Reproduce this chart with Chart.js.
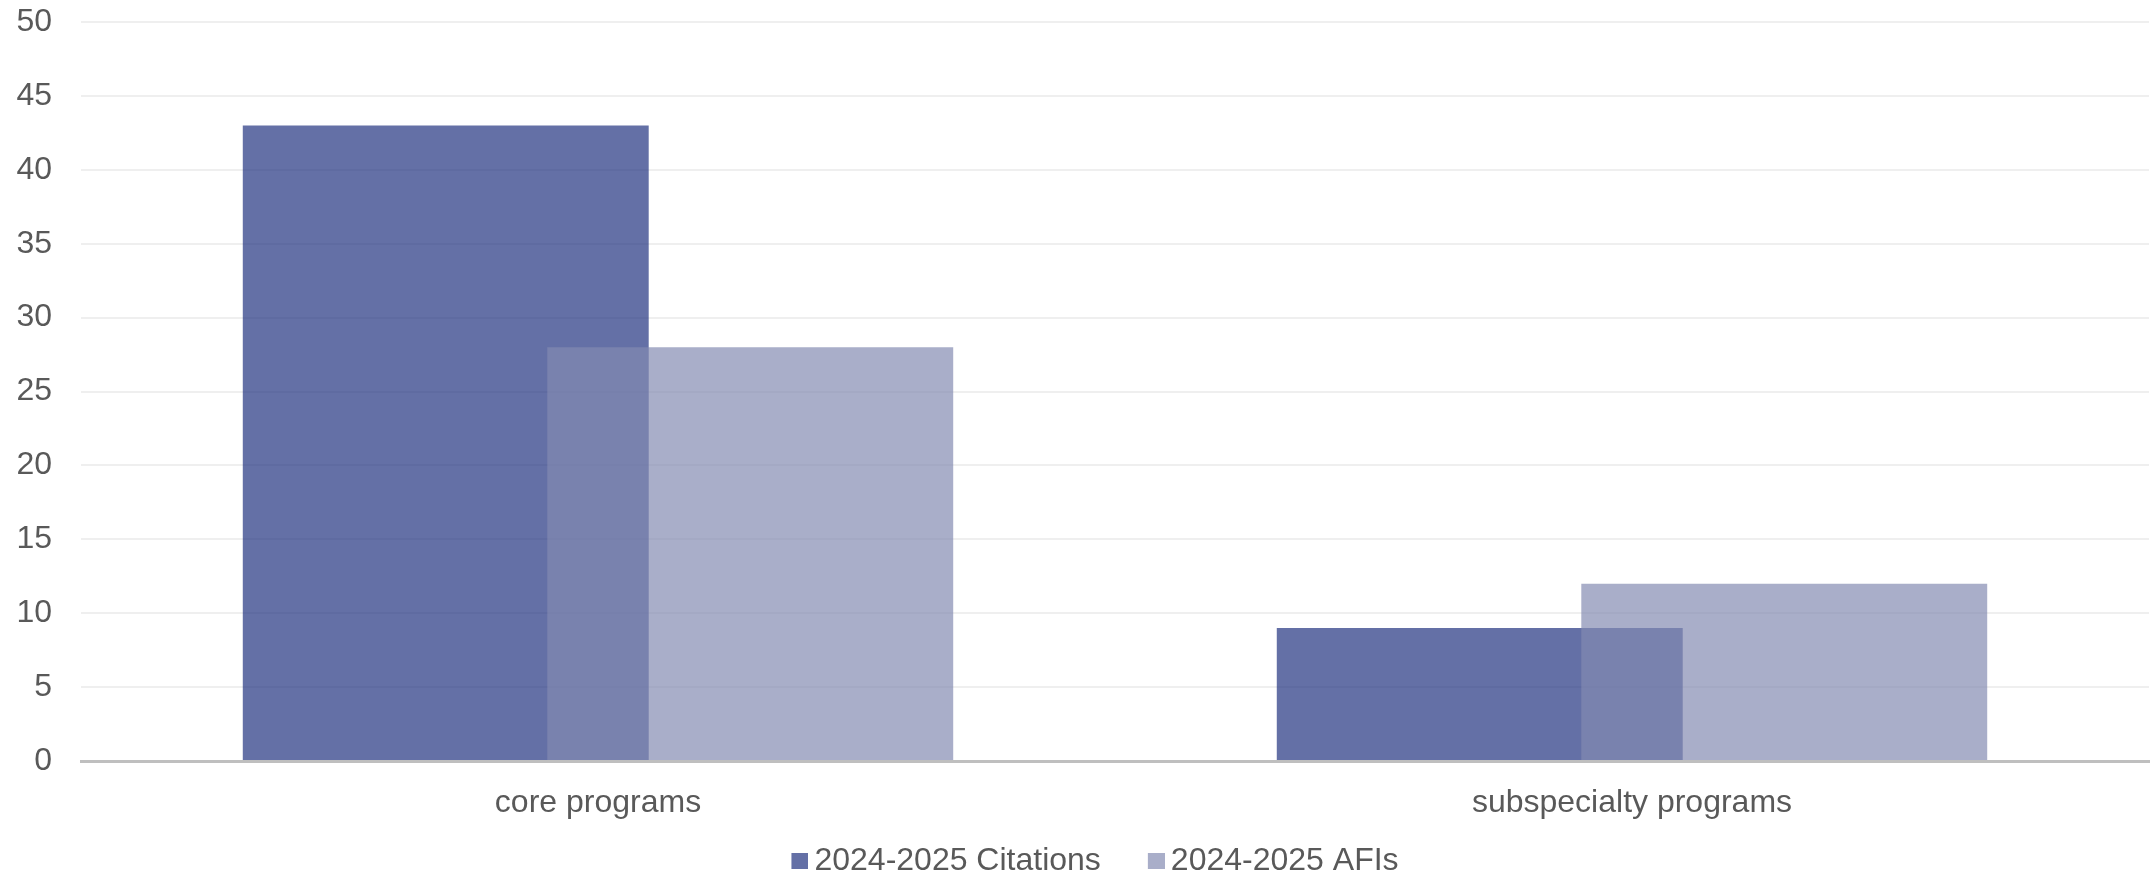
<!DOCTYPE html>
<html>
<head>
<meta charset="utf-8">
<script src="https://cdn.jsdelivr.net/npm/chart.js@4/dist/chart.umd.min.js"></script>
<style>
  html, body { margin: 0; padding: 0; background: #ffffff; }
  #wrap { width: 2150px; height: 875px; position: relative; }
</style>
</head>
<body>
<div id="wrap"><canvas id="c"></canvas></div>
<script>
const categories = ["core programs", "subspecialty programs"];
const citations = [43, 9];
const afis = [28, 12];
const seriesNames = ["2024-2025 Citations", "2024-2025 AFIs"];
const yTicks = [0, 5, 10, 15, 20, 25, 30, 35, 40, 45, 50];
const seriesColors = ["rgba(34,51,128,0.7)", "rgba(130,138,177,0.69)"];

const textColor = "#595959";
const fontFamily = "'Liberation Sans', Arial, sans-serif";

// Legend swatch: a small square placed at the right end of a transparent strip,
// so that it sits close to its label text.
function makeSwatch(color) {
  const cv = document.createElement("canvas");
  cv.width = 68;
  cv.height = 16;
  const g = cv.getContext("2d");
  g.fillStyle = color;
  g.fillRect(51, 0, 17, 16);
  return cv;
}

// Draw the second series (AFIs) on top of the first, as in the reference.
const topSeriesPlugin = {
  id: "topSeries",
  beforeDatasetDraw(chart, args) {
    if (args.index === 1) return false;
  },
  afterDatasetsDraw(chart) {
    const meta = chart.getDatasetMeta(1);
    if (meta && !meta.hidden) meta.controller.draw();
  }
};

new Chart(document.getElementById("c"), {
  type: "bar",
  data: {
    labels: categories,
    datasets: [
      { label: seriesNames[0], data: citations, backgroundColor: seriesColors[0], borderWidth: 0 },
      { label: seriesNames[1], data: afis, backgroundColor: seriesColors[1], borderWidth: 0 }
    ]
  },
  plugins: [topSeriesPlugin],
  options: {
    responsive: true,
    maintainAspectRatio: false,
    animation: false,
    categoryPercentage: 0.589,
    barPercentage: 1.333,
    layout: { padding: { top: 22, right: 1, left: 0, bottom: -12 } },
    plugins: {
      legend: {
        position: "bottom",
        labels: {
          color: textColor,
          font: { family: fontFamily, size: 32 },
          usePointStyle: true,
          pointStyleWidth: 48,
          boxHeight: 16,
          padding: 6,
          generateLabels(chart) {
            const items = Chart.defaults.plugins.legend.labels.generateLabels(chart);
            items.forEach((it, i) => { it.pointStyle = makeSwatch(seriesColors[i]); });
            return items;
          }
        }
      },
      tooltip: { enabled: false }
    },
    scales: {
      x: {
        afterFit: (scale) => { scale.height = 78; },
        grid: { display: false, drawTicks: false },
        border: { display: true, color: "#bfbfbf", width: 3, z: 1 },
        ticks: {
          color: textColor,
          font: { family: fontFamily, size: 32 },
          padding: 23
        }
      },
      y: {
        min: yTicks[0],
        max: yTicks[yTicks.length - 1],
        afterBuildTicks: (scale) => { scale.ticks = yTicks.map(v => ({ value: v })); },
        afterFit: (scale) => {
          scale.width = 81;
          scale.paddingTop = 0;
          scale.paddingBottom = 0;
        },
        grid: { color: "#efefef", lineWidth: 2, drawTicks: false },
        border: { display: false },
        ticks: {
          color: textColor,
          font: { family: fontFamily, size: 32 },
          padding: 29
        }
      }
    }
  }
});
</script>
</body>
</html>
